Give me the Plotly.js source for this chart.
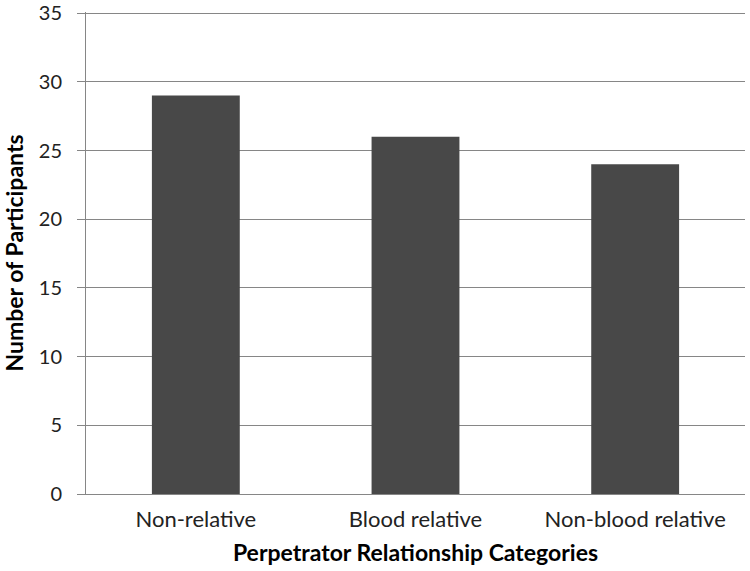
<!DOCTYPE html>
<html><head><meta charset="utf-8">
<script src="https://cdn.plot.ly/plotly-3.0.1.min.js"></script>
<style>html,body{margin:0;padding:0;background:#fff}#c{width:750px;height:571px}</style>
</head><body><div id="c"></div>
<script>
const categories = ["Non-relative", "Blood relative", "Non-blood relative"];
const participants = [29, 26, 24];
const yTicks = [0, 5, 10, 15, 20, 25, 30, 35];

Plotly.newPlot('c', [{
  type: 'bar', x: categories, y: participants,
  marker: {color: '#484848'}, width: 0.4, hoverinfo: 'none'
}], {
  width: 750, height: 571,
  margin: {l: 86, r: 5, t: 12, b: 77},
  paper_bgcolor: '#fff', plot_bgcolor: '#fff',
  font: {family: 'Lato, "Open Sans", sans-serif', color: '#000', size: 22},
  showlegend: false,
  xaxis: {
    showline: true, linecolor: '#868686', linewidth: 1,
    ticks: '', tickfont: {size: 22, color: '#222'}, ticklabelstandoff: 6,
    title: {text: '<b>Perpetrator Relationship Categories</b>', font: {size: 23}, standoff: 13}
  },
  yaxis: {
    range: [0, 35.08], tickvals: yTicks, showline: true, linecolor: '#868686',
    ticks: 'outside', ticklen: 8, tickcolor: '#868686', ticklabeloverflow: 'allow',
    showgrid: true, gridcolor: '#868686', gridwidth: 1, zeroline: false,
    tickfont: {size: 20, color: '#222'}, ticklabelstandoff: 11,
    title: {text: '<b>Number of Participants</b>', font: {size: 23}, standoff: 9}
  }
}, {staticPlot: true});
</script></body></html>
